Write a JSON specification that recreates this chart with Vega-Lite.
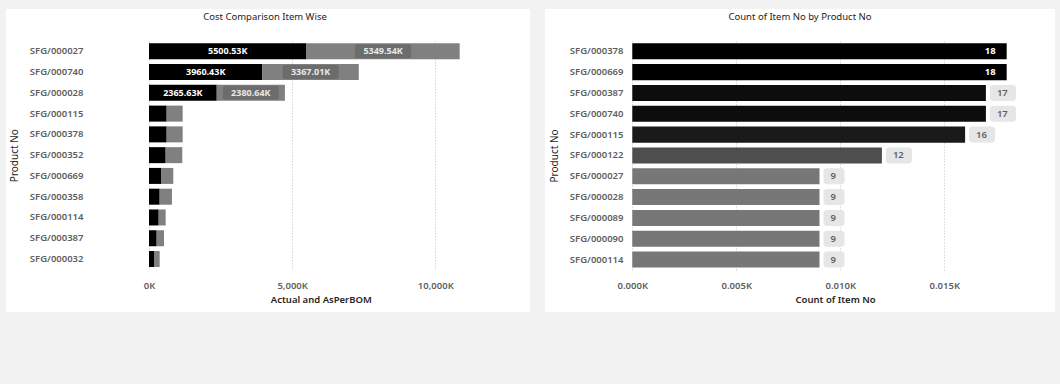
{
  "$schema": "https://vega.github.io/schema/vega-lite/v6.json",
  "background": "#f2f2f2",
  "padding": {"left": 6, "top": 9, "right": 5, "bottom": 72},
  "spacing": 15,
  "config": {
    "view": {"fill": "white", "stroke": null},
    "font": "Noto Sans",
    "axis": {
      "labelFont": "Noto Sans",
      "labelFontSize": 9.5,
      "labelFontWeight": 600,
      "labelColor": "#605e5c",
      "titleFont": "Noto Sans",
      "titleFontSize": 10,
      "titleFontWeight": "normal",
      "titleColor": "#252423",
      "ticks": false,
      "tickSize": 0,
      "domain": false,
      "gridDash": [1, 2],
      "gridColor": "#c2c2c2",
      "gridWidth": 1
    }
  },
  "hconcat": [
    {
      "width": 524,
      "height": 303,
      "title": {"text": "Cost Comparison Item Wise", "frame": "group", "anchor": "middle", "baseline": "top", "offset": -12, "dx": -3, "fontSize": 9.5, "fontWeight": "normal", "color": "#252423", "font": "Noto Sans"},
      "data": {"values": [
        {"product": "SFG/000027", "series": "Actual", "value": 5500.53},
        {"product": "SFG/000027", "series": "AsPerBOM", "value": 5349.54},
        {"product": "SFG/000740", "series": "Actual", "value": 3960.43},
        {"product": "SFG/000740", "series": "AsPerBOM", "value": 3367.01},
        {"product": "SFG/000028", "series": "Actual", "value": 2365.63},
        {"product": "SFG/000028", "series": "AsPerBOM", "value": 2380.64},
        {"product": "SFG/000115", "series": "Actual", "value": 617},
        {"product": "SFG/000115", "series": "AsPerBOM", "value": 559},
        {"product": "SFG/000378", "series": "Actual", "value": 617},
        {"product": "SFG/000378", "series": "AsPerBOM", "value": 559},
        {"product": "SFG/000352", "series": "Actual", "value": 582},
        {"product": "SFG/000352", "series": "AsPerBOM", "value": 581},
        {"product": "SFG/000669", "series": "Actual", "value": 419},
        {"product": "SFG/000669", "series": "AsPerBOM", "value": 429},
        {"product": "SFG/000358", "series": "Actual", "value": 373},
        {"product": "SFG/000358", "series": "AsPerBOM", "value": 429},
        {"product": "SFG/000114", "series": "Actual", "value": 338},
        {"product": "SFG/000114", "series": "AsPerBOM", "value": 244},
        {"product": "SFG/000387", "series": "Actual", "value": 268},
        {"product": "SFG/000387", "series": "AsPerBOM", "value": 256},
        {"product": "SFG/000032", "series": "Actual", "value": 175},
        {"product": "SFG/000032", "series": "AsPerBOM", "value": 198}
      ]},
      "layer": [
        {
          "mark": {"type": "bar"},
          "encoding": {
            "y": {"field": "product", "type": "nominal",
              "sort": ["SFG/000027", "SFG/000740", "SFG/000028", "SFG/000115", "SFG/000378", "SFG/000352", "SFG/000669", "SFG/000358", "SFG/000114", "SFG/000387", "SFG/000032"],
              "scale": {"range": [31.9, 260.4], "paddingInner": 0.23, "paddingOuter": 0.115},
              "axis": {"title": "Product No", "orient": "left", "offset": -80, "labelPadding": 3, "titlePadding": 10, "grid": false}},
            "x": {"field": "value", "type": "quantitative", "stack": "zero",
              "scale": {"domain": [0, 12000], "range": [143, 486.6], "nice": false, "zero": true},
              "axis": {"orient": "top", "grid": true, "labels": false, "title": null, "values": [0, 5000, 10000]}},
            "color": {"field": "series", "type": "nominal", "scale": {"domain": ["Actual", "AsPerBOM"], "range": ["#000000", "#808080"]}, "legend": null},
            "order": {"field": "series", "sort": "ascending"}
          }
        },
        {
          "transform": [
            {"filter": "datum.value > 1000"},
            {"stack": "value", "groupby": ["product"], "sort": [{"field": "series", "order": "ascending"}], "as": ["v0", "v1"]},
            {"fold": ["v0", "v1"], "as": ["edge", "pos"]},
            {"aggregate": [{"op": "mean", "field": "pos", "as": "mid"}], "groupby": ["product", "series"]},
            {"filter": "datum.series === 'AsPerBOM'"}
          ],
          "mark": {"type": "bar", "size": 14, "xOffset": -28, "x2Offset": 28, "color": "#6c6c6c", "cornerRadius": 2},
          "encoding": {
            "y": {"field": "product", "type": "nominal",
              "sort": ["SFG/000027", "SFG/000740", "SFG/000028", "SFG/000115", "SFG/000378", "SFG/000352", "SFG/000669", "SFG/000358", "SFG/000114", "SFG/000387", "SFG/000032"]},
            "x": {"field": "mid", "type": "quantitative", "axis": null},
            "x2": {"field": "mid"}
          }
        },
        {
          "transform": [
            {"filter": "datum.value > 1000"},
            {"stack": "value", "groupby": ["product"], "sort": [{"field": "series", "order": "ascending"}], "as": ["v0", "v1"]},
            {"fold": ["v0", "v1"], "as": ["edge", "pos"]},
            {"aggregate": [{"op": "mean", "field": "pos", "as": "mid"}, {"op": "max", "field": "value", "as": "val"}], "groupby": ["product", "series"]},
            {"calculate": "format(datum.val, '.2f') + 'K'", "as": "label"}
          ],
          "mark": {"type": "text", "font": "Noto Sans", "fontSize": 9, "fontWeight": "bold", "align": "center", "baseline": "middle"},
          "encoding": {
            "y": {"field": "product", "type": "nominal",
              "sort": ["SFG/000027", "SFG/000740", "SFG/000028", "SFG/000115", "SFG/000378", "SFG/000352", "SFG/000669", "SFG/000358", "SFG/000114", "SFG/000387", "SFG/000032"]},
            "x": {"field": "mid", "type": "quantitative",
              "axis": {"orient": "bottom", "offset": -36, "values": [0, 5000, 10000], "labelExpr": "format(datum.value, ',') + 'K'", "labelFlush": false, "labelPadding": 4, "title": "Actual and AsPerBOM", "titlePadding": 5, "titleFontSize": 9.5, "titleFontWeight": 600, "grid": false}},
            "text": {"field": "label"},
            "color": {"condition": {"test": "datum.series === 'Actual'", "value": "#ffffff"}, "value": "#e8e8e8"}
          }
        }
      ],
      "resolve": {"axis": {"x": "independent"}}
    },
    {
      "width": 510,
      "height": 303,
      "title": {"text": "Count of Item No by Product No", "frame": "group", "anchor": "middle", "baseline": "top", "offset": -12, "fontSize": 9.5, "fontWeight": "normal", "color": "#252423", "font": "Noto Sans"},
      "data": {"values": [
        {"product": "SFG/000378", "count": 18},
        {"product": "SFG/000669", "count": 18},
        {"product": "SFG/000387", "count": 17},
        {"product": "SFG/000740", "count": 17},
        {"product": "SFG/000115", "count": 16},
        {"product": "SFG/000122", "count": 12},
        {"product": "SFG/000027", "count": 9},
        {"product": "SFG/000028", "count": 9},
        {"product": "SFG/000089", "count": 9},
        {"product": "SFG/000090", "count": 9},
        {"product": "SFG/000114", "count": 9}
      ]},
      "layer": [
        {
          "mark": {"type": "bar"},
          "encoding": {
            "y": {"field": "product", "type": "nominal",
              "sort": ["SFG/000378", "SFG/000669", "SFG/000387", "SFG/000740", "SFG/000115", "SFG/000122", "SFG/000027", "SFG/000028", "SFG/000089", "SFG/000090", "SFG/000114"],
              "scale": {"range": [31.9, 261.0], "paddingInner": 0.23, "paddingOuter": 0.115},
              "axis": {"title": "Product No", "orient": "left", "offset": -81, "labelPadding": 3, "titlePadding": 10, "grid": false}},
            "x": {"field": "count", "type": "quantitative",
              "scale": {"domain": [0, 19.5], "range": [87.3, 492.9], "nice": false},
              "axis": {"orient": "top", "grid": true, "labels": false, "title": null, "values": [0, 5, 10, 15]}},
            "color": {"field": "count", "type": "quantitative", "scale": {"domain": [9, 18], "range": ["#777777", "#000000"], "interpolate": "rgb"}, "legend": null}
          }
        },
        {
          "transform": [{"filter": "datum.count >= 10 && datum.count < 18"}],
          "mark": {"type": "bar", "size": 16, "xOffset": 4, "x2Offset": 30, "color": "#e6e6e6", "cornerRadius": 3},
          "encoding": {
            "y": {"field": "product", "type": "nominal",
              "sort": ["SFG/000378", "SFG/000669", "SFG/000387", "SFG/000740", "SFG/000115", "SFG/000122", "SFG/000027", "SFG/000028", "SFG/000089", "SFG/000090", "SFG/000114"]},
            "x": {"field": "count", "type": "quantitative", "axis": null},
            "x2": {"field": "count"}
          }
        },
        {
          "transform": [{"filter": "datum.count < 10"}],
          "mark": {"type": "bar", "size": 16, "xOffset": 4, "x2Offset": 25, "color": "#e6e6e6", "cornerRadius": 3},
          "encoding": {
            "y": {"field": "product", "type": "nominal",
              "sort": ["SFG/000378", "SFG/000669", "SFG/000387", "SFG/000740", "SFG/000115", "SFG/000122", "SFG/000027", "SFG/000028", "SFG/000089", "SFG/000090", "SFG/000114"]},
            "x": {"field": "count", "type": "quantitative", "axis": null},
            "x2": {"field": "count"}
          }
        },
        {
          "transform": [{"filter": "datum.count < 18"}],
          "mark": {"type": "text", "font": "Noto Sans", "fontSize": 9.5, "fontWeight": 600, "align": "left", "baseline": "middle", "dx": 11, "color": "#605e5c"},
          "encoding": {
            "y": {"field": "product", "type": "nominal",
              "sort": ["SFG/000378", "SFG/000669", "SFG/000387", "SFG/000740", "SFG/000115", "SFG/000122", "SFG/000027", "SFG/000028", "SFG/000089", "SFG/000090", "SFG/000114"]},
            "x": {"field": "count", "type": "quantitative",
              "axis": {"orient": "bottom", "offset": -36, "values": [0, 5, 10, 15], "labelExpr": "format(datum.value / 1000, '.3f') + 'K'", "labelFlush": false, "labelPadding": 4, "title": "Count of Item No", "titlePadding": 5, "titleFontSize": 9.5, "titleFontWeight": 600, "grid": false}},
            "text": {"field": "count", "type": "quantitative"}
          }
        },
        {
          "transform": [{"filter": "datum.count >= 18"}],
          "mark": {"type": "text", "font": "Noto Sans", "fontSize": 9.5, "fontWeight": "bold", "align": "right", "baseline": "middle", "dx": -11, "color": "#ffffff"},
          "encoding": {
            "y": {"field": "product", "type": "nominal",
              "sort": ["SFG/000378", "SFG/000669", "SFG/000387", "SFG/000740", "SFG/000115", "SFG/000122", "SFG/000027", "SFG/000028", "SFG/000089", "SFG/000090", "SFG/000114"]},
            "x": {"field": "count", "type": "quantitative", "axis": null},
            "text": {"field": "count", "type": "quantitative"}
          }
        }
      ],
      "resolve": {"axis": {"x": "independent"}}
    }
  ]
}
